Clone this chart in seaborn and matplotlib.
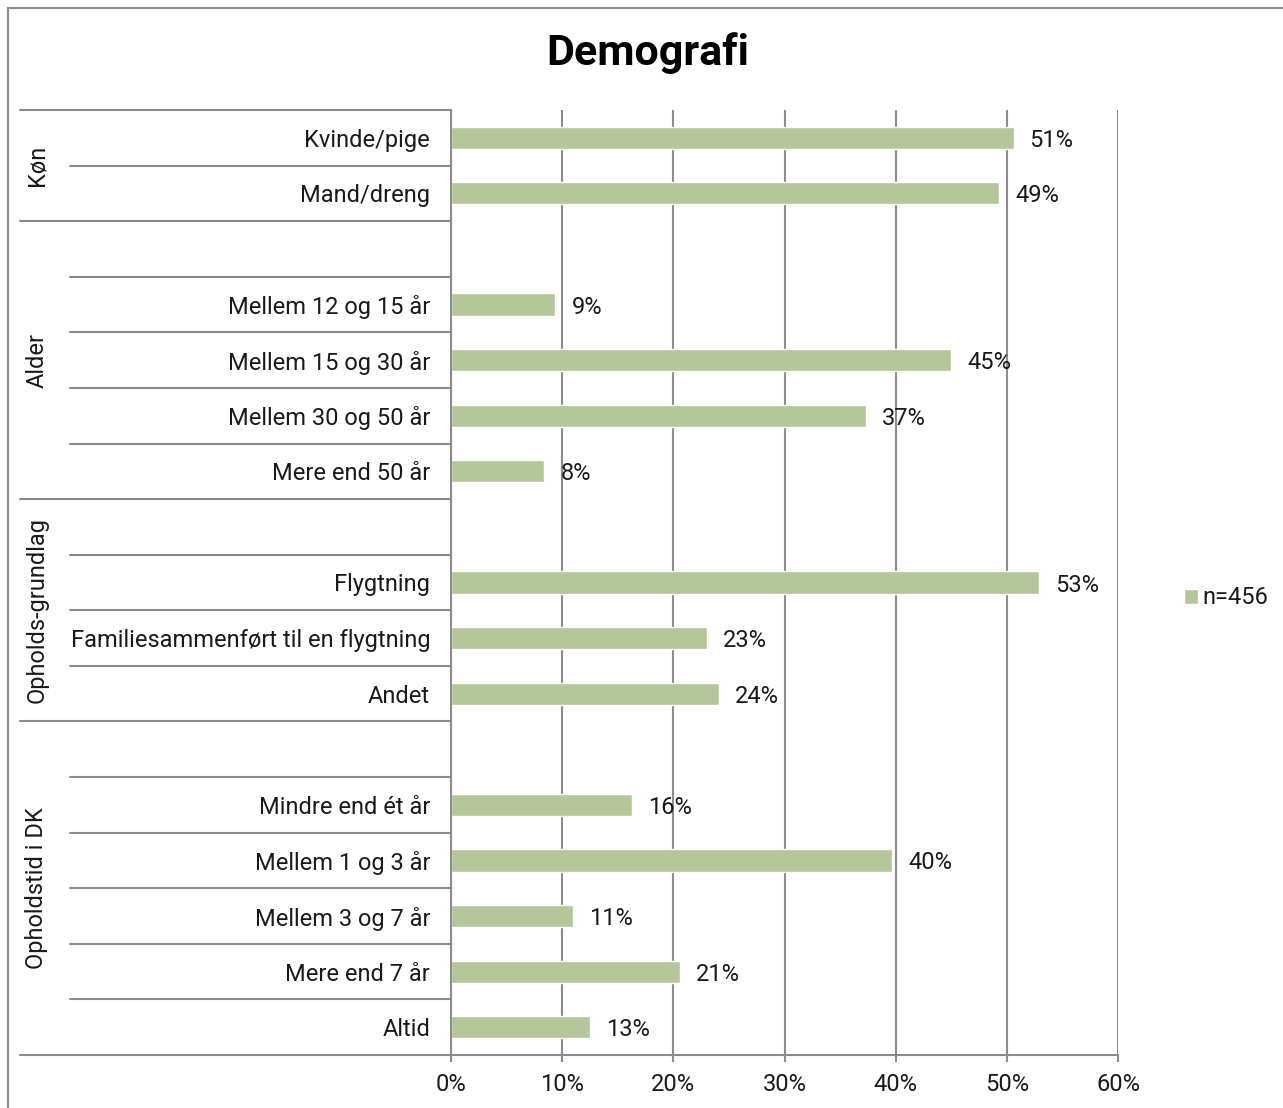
import matplotlib
matplotlib.use("Agg")
import matplotlib.pyplot as plt
import matplotlib.transforms as mtransforms
from matplotlib.patches import Rectangle
import seaborn as sns
import pandas as pd

# ---- data ----
groups = ["Køn", "Alder", "Opholds-grundlag", "Opholdstid i DK"]
group_rows = [
    ["Kvinde/pige", "Mand/dreng"],
    ["", "Mellem 12 og 15 år", "Mellem 15 og 30 år", "Mellem 30 og 50 år", "Mere end 50 år"],
    ["", "Flygtning", "Familiesammenført til en flygtning", "Andet"],
    ["", "Mindre end ét år", "Mellem 1 og 3 år", "Mellem 3 og 7 år", "Mere end 7 år", "Altid"],
]
group_values = [
    [50.6, 49.3],
    [None, 9.4, 45.0, 37.3, 8.4],
    [None, 52.9, 23.0, 24.1],
    [None, 16.3, 39.7, 11.0, 20.6, 12.5],
]
value_labels = [
    ["51%", "49%"],
    [None, "9%", "45%", "37%", "8%"],
    [None, "53%", "23%", "24%"],
    [None, "16%", "40%", "11%", "21%", "13%"],
]
x_ticks = [0, 10, 20, 30, 40, 50, 60]
x_tick_labels = ["0%", "10%", "20%", "30%", "40%", "50%", "60%"]
series_name = "n=456"
title = "Demografi"

# ---- build table ----
order, display, vals, labs = [], [], [], []
blank = 0
for g, (rows, vs, ls) in enumerate(zip(group_rows, group_values, value_labels)):
    for r, v, l in zip(rows, vs, ls):
        if r == "":
            blank += 1
            key = " " * blank
        else:
            key = r
        order.append(key)
        display.append(r)
        vals.append(v)
        labs.append(l)

df = pd.DataFrame({"cat": order, "val": vals, "serie": series_name}).dropna()

sns.set_theme(style="white")
plt.rcParams["font.family"] = ["Roboto", "DejaVu Sans"]

GRAY = "#8c8c8c"
GREEN = "#b7cd93"
TXT = "#1a1a1a"
FS = 17
W, H = 1283, 1108
fig = plt.figure(figsize=(W / 100, H / 100), dpi=100)
ax = fig.add_axes([451 / W, 1 - 1055 / H, (1118 - 451) / W, (1055 - 110) / H])

sns.barplot(data=df, y="cat", x="val", hue="serie", order=order, orient="h",
            palette=[GREEN], width=0.4, ax=ax, legend=True)

ax.set_xlim(0, 60)
ax.set_ylim(len(order) - 0.5, -0.5)
ax.set_xticks(x_ticks)
ax.set_xticklabels(x_tick_labels, fontsize=FS, color=TXT)
ax.set_yticks(range(len(order)))
ax.set_yticklabels(display, fontsize=FS, color=TXT, va="center_baseline")
ax.set_xlabel("")
ax.set_ylabel("")
ax.tick_params(axis="y", length=0, pad=15)
ax.tick_params(axis="x", length=5, width=1.5, color=GRAY, direction="out", pad=8, bottom=True)
ax.grid(axis="x", color=GRAY, linewidth=1.5)
ax.set_axisbelow(True)
for s in ["top", "right"]:
    ax.spines[s].set_visible(False)
for s in ["left", "bottom"]:
    ax.spines[s].set_color(GRAY)
    ax.spines[s].set_linewidth(1.5)

# value labels
for i, (v, l) in enumerate(zip(vals, labs)):
    if v is not None:
        ax.annotate(l, xy=(v, i), xytext=(11.5, 0), textcoords="offset points",
                    ha="left", va="center_baseline", fontsize=FS, color=TXT)

# separator lines left of the axes
trans = mtransforms.blended_transform_factory(ax.transAxes, ax.transData)
x_grp = (20 - 451) / (1118 - 451)
x_cat = (70 - 451) / (1118 - 451)
bounds = [-0.5]
n = 0
for rows in group_rows:
    n += len(rows)
    bounds.append(n - 0.5)
for b in bounds:
    ax.plot([x_grp, 0], [b, b], transform=trans, color=GRAY, lw=1.5, clip_on=False)
for i in range(len(order) - 1):
    b = i + 0.5
    if b not in bounds:
        ax.plot([x_cat, 0], [b, b], transform=trans, color=GRAY, lw=1.5, clip_on=False)

# group labels
x_lab = (37 - 451) / (1118 - 451)
for g, name in enumerate(groups):
    c = (bounds[g] + bounds[g + 1]) / 2
    ax.text(x_lab, c, name, transform=trans, rotation=90, ha="center", va="center",
            fontsize=FS, color=TXT)

# legend
leg = ax.legend(loc="center left", bbox_to_anchor=(1172 / W, 1 - 598 / H),
                bbox_transform=fig.transFigure, frameon=False, fontsize=FS,
                handlelength=0.6, handleheight=0.6, handletextpad=0.2, borderpad=0)
for t in leg.get_texts():
    t.set_color(TXT)

fig.text(648 / W, 1 - 53 / H, title, ha="center", va="center", fontsize=31,
         fontweight="semibold", color="black")

fig.add_artist(Rectangle((8 / W, -0.1), 1.2, 1 - 8 / H + 0.1, transform=fig.transFigure,
                         fill=False, edgecolor=GRAY, lw=1.5))

fig.savefig("out.png", dpi=100)
